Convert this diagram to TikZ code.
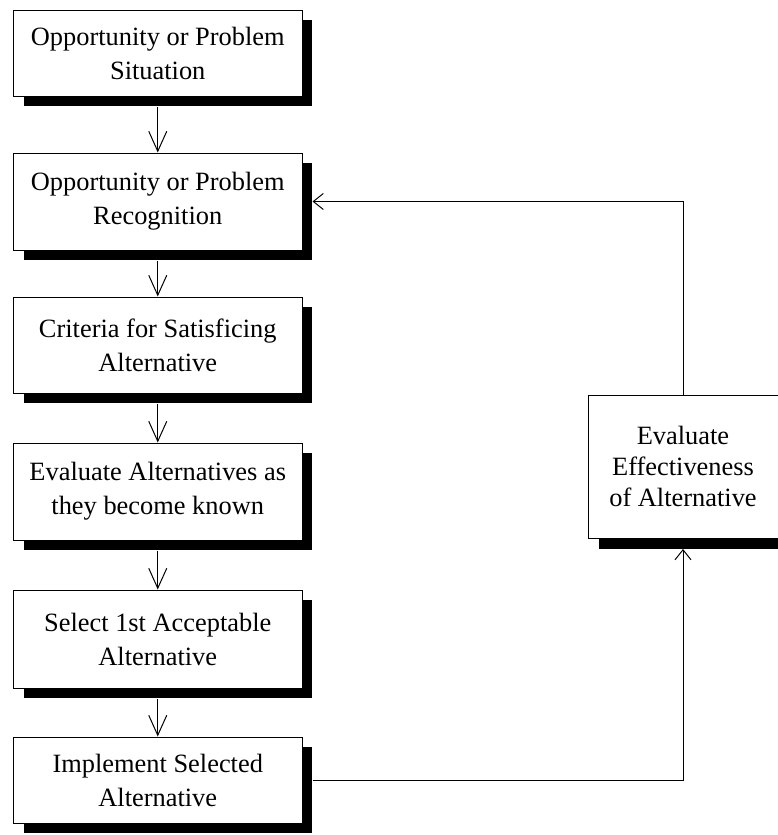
\documentclass[tikz,border=0pt]{standalone}
\usepackage{fontspec}
\setmainfont{Liberation Serif}
\usetikzlibrary{arrows.meta,shadows}
\begin{document}
\begin{tikzpicture}[x=0.5pt,y=-0.5pt,
    procbox/.style={draw,line width=0.5pt,fill=white,align=center,inner sep=0pt,
      minimum width=144.25pt,font=\fontsize{13.2}{17}\selectfont,
      drop shadow={shadow xshift=5pt,shadow yshift=-5pt,fill=black,opacity=1}},
    flow/.style={line width=0.5pt,-{Straight Barb[length=10pt,width=9pt,line width=0.5pt]}},
    back/.style={line width=0.5pt,-{Straight Barb[length=5pt,width=8pt,line width=0.5pt]}}]
      \useasboundingbox (0,0) rectangle (777,835);
      \node[procbox,minimum height=43pt] (sit) at (157.75,53) {Opportunity or Problem\\Situation};
      \node[procbox,minimum height=48.5pt] (rec) at (157.75,201.5) {Opportunity or Problem\\Recognition};
      \node[procbox,minimum height=48pt] (crit) at (157.75,345) {Criteria for Satisficing\\Alternative};
      \node[procbox,minimum height=48.5pt] (evalt) at (157.75,491.5) {Evaluate Alternatives as\\they become known};
      \node[procbox,minimum height=49pt] (sel) at (157.75,639) {Select 1st Acceptable\\Alternative};
      \node[procbox,minimum height=43pt] (impl) at (157.75,780) {Implement Selected\\Alternative};
      % right box runs off the page
      \node[procbox,anchor=north west,minimum width=130pt,minimum height=71.5pt] (eff) at (588,395) {};
      \node[align=center,inner sep=0pt,font=\fontsize{13.2}{15.5}\selectfont] (efftxt) at (683,466.5) {Evaluate\\Effectiveness\\of Alternative};
      \draw[flow] ([yshift=-5pt]sit.south) -- (rec.north);
      \draw[flow] ([yshift=-5pt]rec.south) -- (crit.north);
      \draw[flow] ([yshift=-5pt]crit.south) -- (evalt.north);
      \draw[flow] ([yshift=-5pt]evalt.south) -- (sel.north);
      \draw[flow] ([yshift=-5pt]sel.south) -- (impl.north);
      \draw[back] ([xshift=5pt]impl.east) -| ([yshift=-5pt]efftxt |- eff.south);
      \draw[back] (efftxt |- eff.north) |- ([xshift=5pt]rec.east);
    \end{tikzpicture}
\end{document}
